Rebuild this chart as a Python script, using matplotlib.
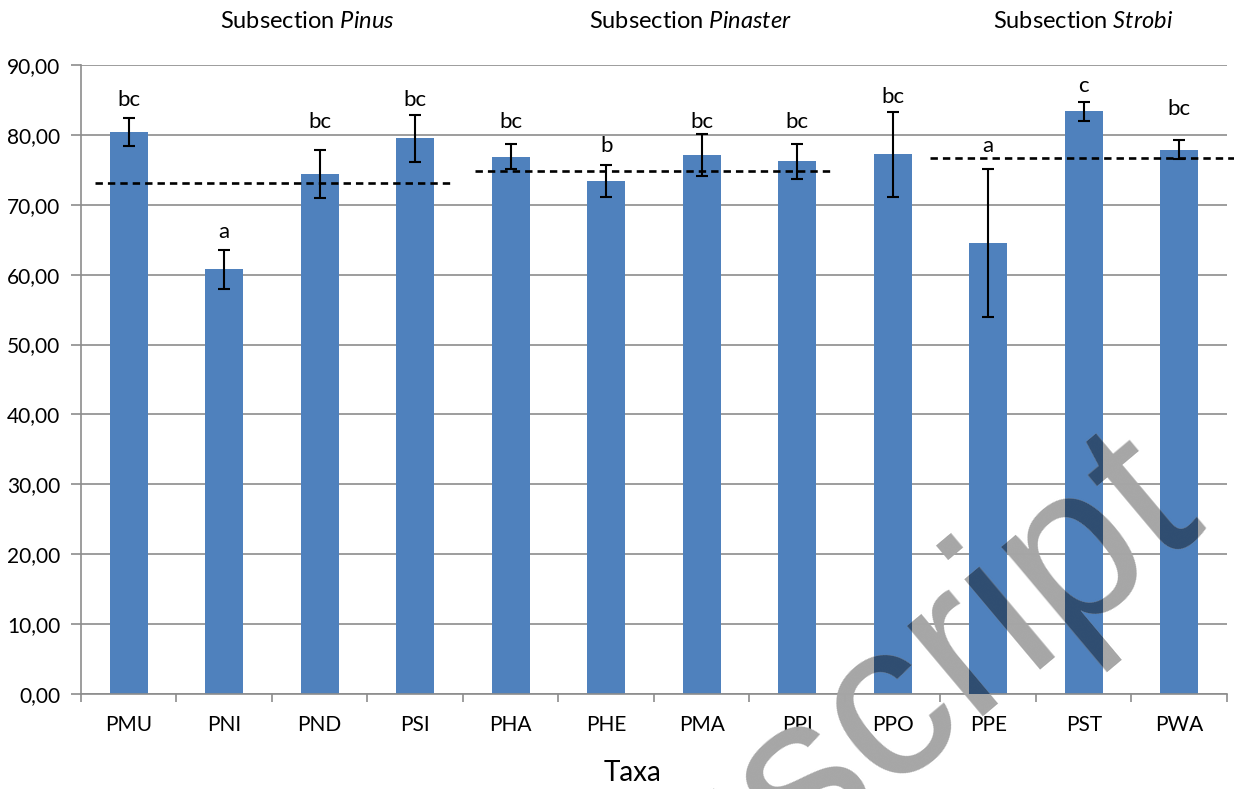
import matplotlib.pyplot as plt
import numpy as np
from matplotlib.ticker import FuncFormatter

plt.rcParams["font.family"] = ["Lato", "DejaVu Sans"]
plt.rcParams["mathtext.fontset"] = "custom"
plt.rcParams["mathtext.rm"] = "Lato"
plt.rcParams["mathtext.it"] = "Lato:italic"

# Mean value per taxon with its error and the significance letters
taxa = ["PMU", "PNI", "PND", "PSI", "PHA", "PHE",
        "PMA", "PPI", "PPO", "PPE", "PST", "PWA"]
means = [80.4, 60.8, 74.4, 79.5, 76.9, 73.4, 77.1, 76.2, 77.2, 64.5, 83.4, 77.9]
errors = [2.0, 2.8, 3.4, 3.4, 1.8, 2.35, 3.0, 2.45, 6.1, 10.6, 1.35, 1.35]
letters = ["bc", "a", "bc", "bc", "bc", "b", "bc", "bc", "bc", "a", "c", "bc"]
letter_y = [84.2, 65.2, 81.0, 84.2, 81.0, 77.5, 81.0, 81.0, 84.6, 77.5, 86.2, 82.9]

# Subsection averages, drawn as dashed lines over their taxa
subsections = ["Pinus", "Pinaster", "Strobi"]
subsection_means = [73.1, 74.9, 76.7]
subsection_from = [-0.35, 3.63, 8.39]
subsection_to = [3.38, 7.36, 12.3]

BLUE = "#4F81BD"
GREY = "#8C8C8C"

fig = plt.figure(figsize=(12.34, 7.89), dpi=100)
ax = fig.add_axes([0.0656, 0.1204, 0.9287, 0.7972])

x = np.arange(len(taxa))
bars = ax.bar(x, means, width=0.4, color=BLUE, zorder=2)
ax.errorbar(x, means, yerr=errors, fmt="none", ecolor="black",
            elinewidth=1.5, capsize=4, capthick=1.5, zorder=3)

for xi, lab, ly in zip(x, letters, letter_y):
    ax.text(xi, ly, lab, ha="center", va="baseline", fontsize=16)

for m, x0, x1 in zip(subsection_means, subsection_from, subsection_to):
    ax.plot([x0, x1], [m, m], color="black", lw=1.9,
            linestyle=(0, (2.8, 1.9)), zorder=4, clip_on=False)

ax.set_xlim(-0.5, len(taxa) - 0.5)
ax.set_ylim(0, 90)
ax.set_yticks(np.arange(0, 91, 10))
ax.yaxis.set_major_formatter(FuncFormatter(lambda v, p: f"{v:.2f}".replace(".", ",")))
ax.grid(axis="y", color=GREY, lw=1.2, zorder=0)
ax.set_axisbelow(True)

ax.set_xticks(np.arange(-0.5, len(taxa)), labels=[])
ax.set_xticks(x, labels=taxa, minor=True)
ax.tick_params(axis="x", which="major", length=6, width=1.2, color=GREY)
ax.tick_params(axis="x", which="minor", length=0, pad=15, labelsize=15)
ax.tick_params(axis="y", length=7, width=1.2, color=GREY, pad=8, labelsize=15)

for side in ["top", "right"]:
    ax.spines[side].set_visible(False)
for side in ["left", "bottom"]:
    ax.spines[side].set_color(GREY)
    ax.spines[side].set_linewidth(1.2)

for name, px in zip(subsections, [307, 690, 1083]):
    fig.text(px / 1234, 1 - 22 / 789, f"Subsection $\\it{{{name}}}$",
             ha="center", va="center", fontsize=17)

fig.text(633 / 1234, 1 - 773 / 789, "Taxa", ha="center", va="center", fontsize=20)

# watermark: grey on white, darker where it crosses the bars
wm = dict(ha="right", va="baseline", rotation=40, rotation_mode="anchor",
          fontsize=160, family="Liberation Sans")
wm_x, wm_y = 1205 / 1234, 1 - 515 / 789
fig.text(wm_x, wm_y, "Manuscript", color="#A6A6A6", zorder=5, **wm)
for b in bars:
    t = fig.text(wm_x, wm_y, "Manuscript", color="#2F4D71", zorder=6, **wm)
    t.set_clip_path(b)

fig.savefig("out.png", dpi=100)
